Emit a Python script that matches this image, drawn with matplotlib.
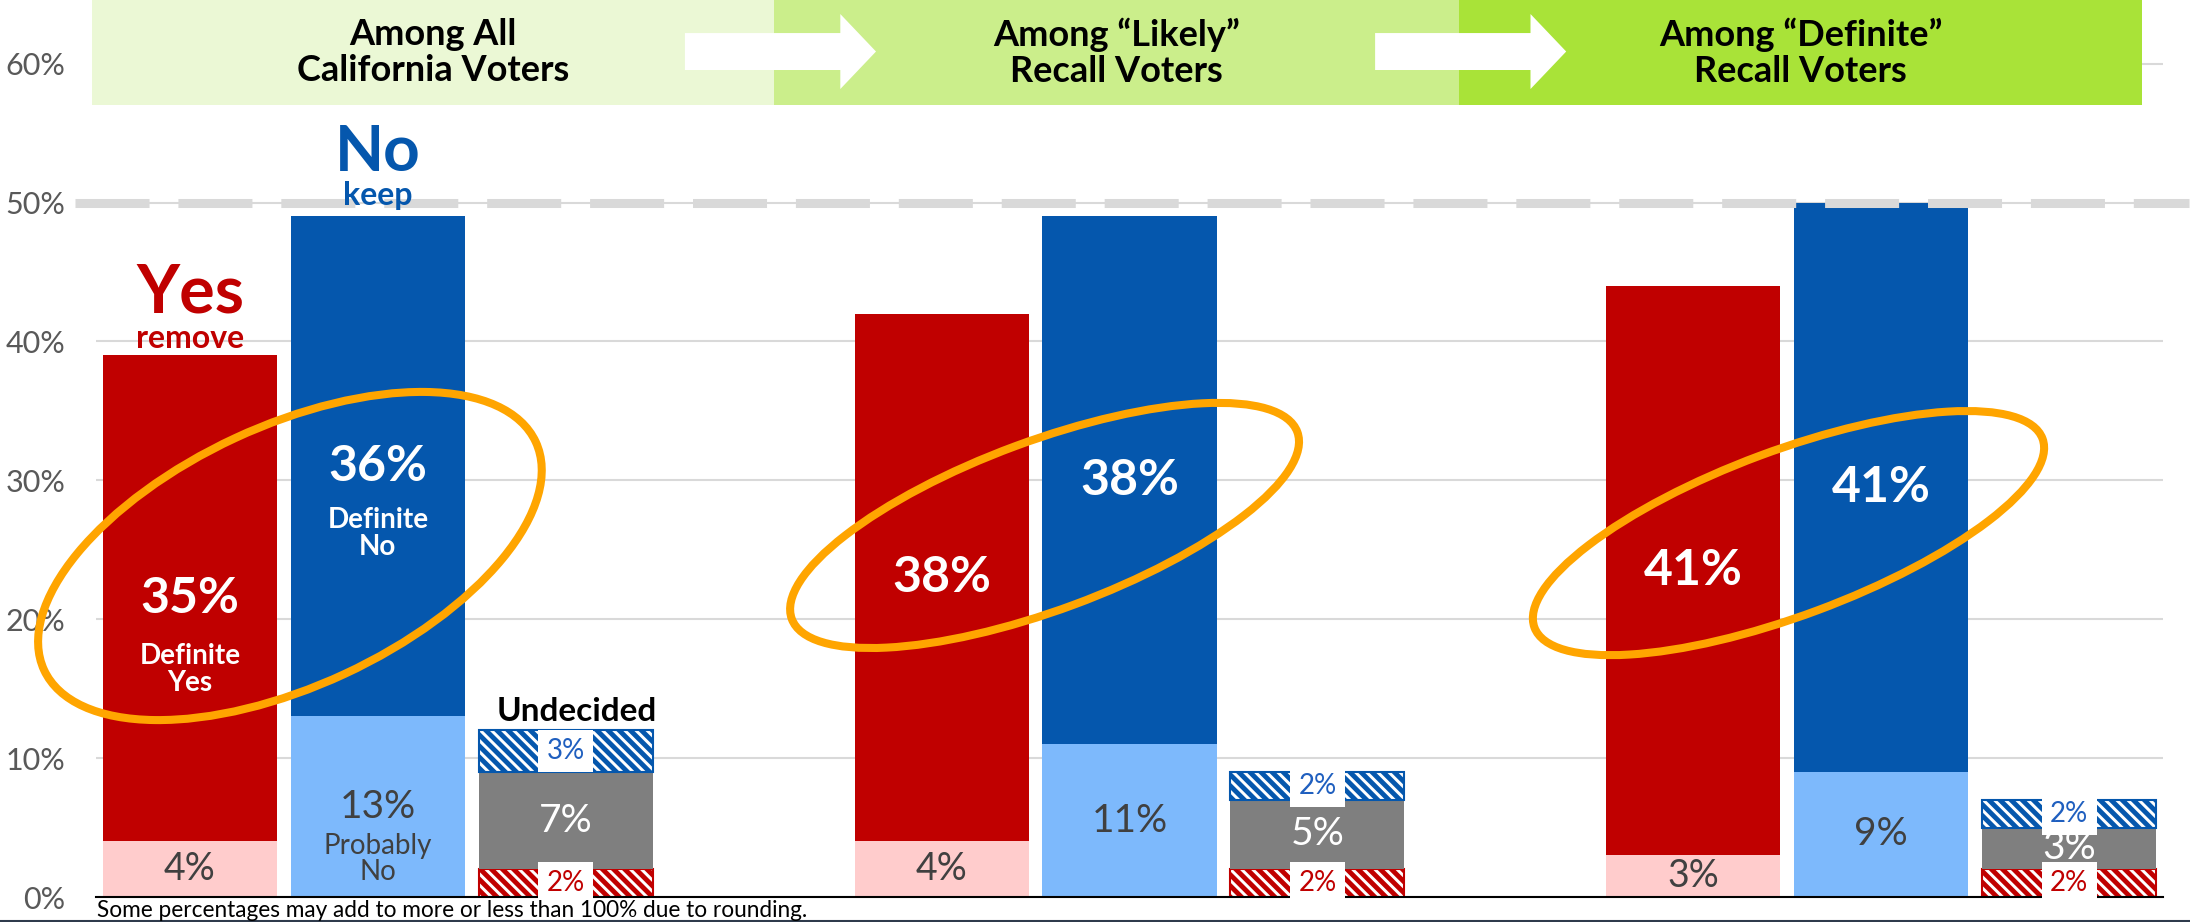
###############################################################################
# Recall election chart: Yes / No / Undecided among three voter groups
###############################################################################
import matplotlib
matplotlib.use('Agg')
import matplotlib.pyplot as plt
from matplotlib.patches import Ellipse, Rectangle, FancyArrow
from matplotlib.transforms import ScaledTranslation
from matplotlib.lines import Line2D

# data
groups = ['Among All\nCalifornia Voters', 'Among \u201cLikely\u201d\nRecall Voters',
          'Among \u201cDefinite\u201d\nRecall Voters']
def_yes = [35, 38, 41]
prob_yes = [4, 4, 3]
def_no = [36, 38, 41]
prob_no = [13, 11, 9]
lean_yes = [2, 2, 2]
undecided = [7, 5, 3]
lean_no = [3, 2, 2]
yticks = [0, 10, 20, 30, 40, 50, 60]

RED = '#C00000'
PINK = '#FFCCCC'
BLUE = '#0557AD'
LBLUE = '#7DB9FC'
GRAY = '#7F7F7F'
TXT = '#404040'
ORANGE = '#FFA500'
BANDS = ['#EBF8D5', '#CBEE8B', '#A9E338']

plt.rcParams['font.family'] = ['Lato', 'DejaVu Sans']
plt.rcParams['hatch.linewidth'] = 3.5

fig = plt.figure(figsize=(21.9, 9.22), dpi=100)
ax = fig.add_axes([96 / 2190, 25 / 922, 2067 / 2190, 897 / 922])
ax.set_xlim(-0.5, 10.5)
ax.set_ylim(0, 64.58)

w = 0.926
for g in range(3):
    x0 = g * 4
    # yes bar
    ax.bar(x0, prob_yes[g], w, color=PINK, zorder=2)
    ax.bar(x0, def_yes[g], w, bottom=prob_yes[g], color=RED, zorder=2)
    # no bar
    ax.bar(x0 + 1, prob_no[g], w, color=LBLUE, zorder=2)
    ax.bar(x0 + 1, def_no[g], w, bottom=prob_no[g], color=BLUE, zorder=2)
    # undecided bar
    ax.bar(x0 + 2, lean_yes[g], w, color='white', edgecolor=RED, hatch='\\\\\\', lw=1.5, zorder=2)
    ax.bar(x0 + 2, undecided[g], w, bottom=lean_yes[g], color=GRAY, zorder=2)
    ax.bar(x0 + 2, lean_no[g], w, bottom=lean_yes[g] + undecided[g], color='white',
           edgecolor=BLUE, hatch='\\\\\\', lw=1.5, zorder=2)

    # labels in the bars
    yc = prob_yes[g] + def_yes[g] / 2
    ax.text(x0, yc, f'{def_yes[g]}%', color='white', fontsize=36, fontweight='bold',
            ha='center', va='center', zorder=6)
    nc = prob_no[g] + def_no[g] / 2
    ax.text(x0 + 1, nc, f'{def_no[g]}%', color='white', fontsize=36, fontweight='bold',
            ha='center', va='center', zorder=6)
    ax.text(x0, prob_yes[g] / 2, f'{prob_yes[g]}%', color=TXT, fontsize=27,
            ha='center', va='center', zorder=6)
    ax.text(x0 + 1, prob_no[g] / 2, f'{prob_no[g]}%', color=TXT, fontsize=28,
            ha='center', va='center', zorder=6)
    ax.text(x0 + 2, lean_yes[g] / 2, f'{lean_yes[g]}%', color=RED, fontsize=20,
            ha='center', va='center', zorder=6,
            bbox=dict(boxstyle='square,pad=0.3', fc='white', ec='none'))
    ax.text(x0 + 2, lean_yes[g] + undecided[g] / 2, f'{undecided[g]}%', color='white',
            fontsize=28, ha='center', va='center', zorder=5)
    ax.text(x0 + 2, lean_yes[g] + undecided[g] + lean_no[g] / 2, f'{lean_no[g]}%',
            color='#1F5FBF', fontsize=20, ha='center', va='center', zorder=6,
            bbox=dict(boxstyle='square,pad=0.3', fc='white', ec='none'))

# extra words on the first group
ax.annotate('Definite\nYes', (0, prob_yes[0] + def_yes[0] / 2), xytext=(0, -51),
            textcoords='offset points', color='white', fontsize=20, fontweight='bold',
            ha='center', va='center', linespacing=1.05, zorder=6)
ax.annotate('Definite\nNo', (1, prob_no[0] + def_no[0] / 2), xytext=(0, -48),
            textcoords='offset points', color='white', fontsize=20, fontweight='bold',
            ha='center', va='center', linespacing=1.05, zorder=6)
ax.annotate('Probably\nNo', (1, prob_no[0] / 2), xytext=(0, -38),
            textcoords='offset points', color=TXT, fontsize=20,
            ha='center', va='center', linespacing=1.0, zorder=6)
ax.text(0, 42.1, 'Yes', color=RED, fontsize=48, fontweight='bold', ha='center', va='baseline')
ax.text(0, 39.5, 'remove', color=RED, fontsize=23, fontweight='bold', ha='center', va='baseline')
ax.text(1, 52.3, 'No', color=BLUE, fontsize=46, fontweight='bold', ha='center', va='baseline', zorder=6)
ax.text(1, 49.8, 'keep', color=BLUE, fontsize=23, fontweight='bold', ha='center', va='baseline', zorder=6)
ax.text(2.06, 12.7, 'Undecided', color='black', fontsize=24, fontweight='bold',
        ha='center', va='baseline')

# header bands with arrows
band_edges = [-0.522, 3.108, 6.754, 10.389]
for i in range(3):
    ax.add_patch(Rectangle((band_edges[i], 57.0), band_edges[i + 1] - band_edges[i], 7.58,
                           color=BANDS[i], lw=0, zorder=3, clip_on=False))
    ax.text((band_edges[i] + band_edges[i + 1]) / 2, 60.8, groups[i], fontsize=26,
            fontweight='bold', ha='center', va='center', linespacing=1.1, zorder=5)
for xa in [2.634, 6.307]:
    ax.add_patch(FancyArrow(xa, 60.87, 1.017, 0, width=2.66, head_width=5.4,
                            head_length=0.19, length_includes_head=True,
                            color='white', lw=0, zorder=4))

# orange ellipses (sizes in inches, centred on data points)
ellipses = [(0.532, 24.55, 5.42, 2.60, 24.9), (4.548, 26.75, 5.39, 1.69, 20.3),
            (8.507, 26.2, 5.42, 1.65, 20.4)]
for cx, cy, ew, eh, ang in ellipses:
    tr = fig.dpi_scale_trans + ScaledTranslation(cx, cy, ax.transData)
    ax.add_patch(Ellipse((0, 0), ew, eh, angle=ang, transform=tr, fill=False,
                         ec=ORANGE, lw=5.8, zorder=5, clip_on=False))

# 50% dashed line
ax.plot([-0.612, 10.64], [50, 50], color='#D9D9D9', lw=6.5, dashes=(8.2, 3.2),
        dash_capstyle='butt', clip_on=False, zorder=4)

# axes styling
ax.set_yticks(yticks)
ax.set_yticklabels([f'{v}%' for v in yticks], fontsize=22, color='#595959')
ax.set_xticks([])
ax.tick_params(axis='y', length=0, pad=22)
ax.yaxis.grid(True, color='#D9D9D9', lw=1.5)
ax.set_axisbelow(True)
for s in ['top', 'right', 'left']:
    ax.spines[s].set_visible(False)
ax.spines['bottom'].set_color('black')
ax.spines['bottom'].set_linewidth(1.5)
ax.spines['bottom'].set_zorder(3)

fig.text(97 / 2190, 5 / 922, 'Some percentages may add to more or less than 100% due to rounding.',
         fontsize=16.3, color='black', ha='left', va='baseline')
fig.add_artist(Line2D([0, 1], [0.0015, 0.0015], color='#2F3B4C', lw=1.5))

fig.savefig('out.png', dpi=100)
